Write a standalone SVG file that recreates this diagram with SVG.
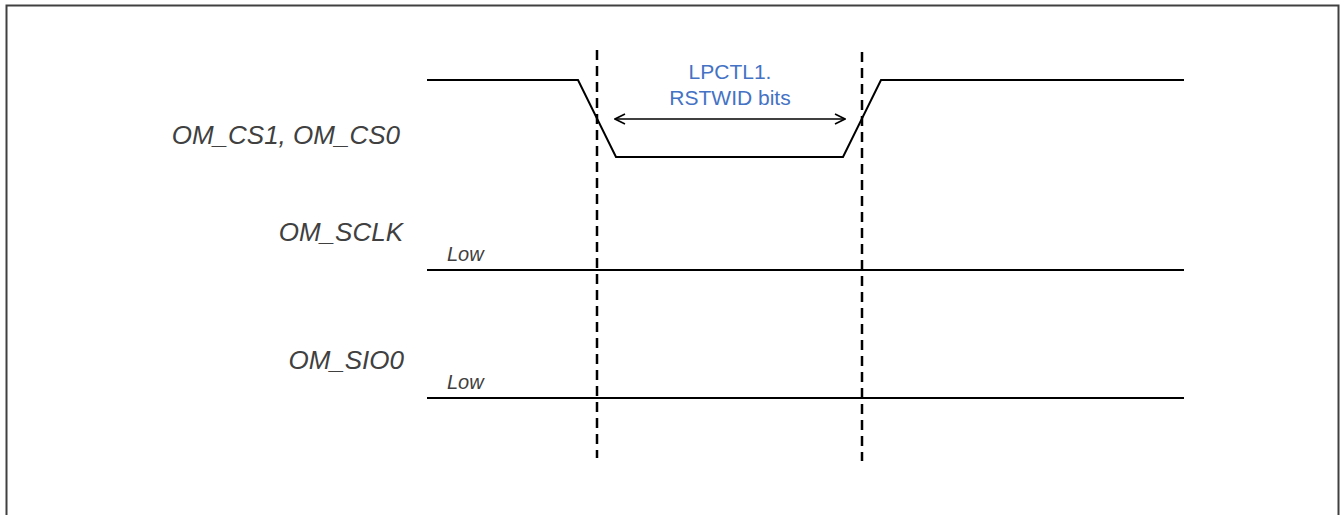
<svg xmlns="http://www.w3.org/2000/svg" width="1341" height="515" viewBox="0 0 1341 515">
<style>
.lbl{font-family:"Liberation Sans",Arial,sans-serif;font-style:italic;font-size:26px;fill:#404040;text-anchor:end}
.low{font-family:"Liberation Sans",Arial,sans-serif;font-style:italic;font-size:20px;fill:#404040}
.note{font-family:"Liberation Sans",Arial,sans-serif;font-size:21px;fill:#4472C4;text-anchor:middle}
.sig{fill:none;stroke:#000;stroke-width:2}
.dash{fill:none;stroke:#000;stroke-width:2.5;stroke-dasharray:10,6}
</style>
<defs>
<marker id="ah" viewBox="0 0 12 12" refX="11" refY="6" markerWidth="12" markerHeight="12" markerUnits="userSpaceOnUse" orient="auto-start-reverse">
<path d="M1,1 L11,6 L1,11" fill="none" stroke="#000" stroke-width="1.6"/>
</marker>
</defs>
<rect x="6.5" y="5.5" width="1332" height="530" fill="#fff" stroke="#404040" stroke-width="2"/>
<g id="cs">
<text class="lbl" x="400" y="144">OM_CS1, OM_CS0</text>
<path class="sig" d="M427,80 H578 L616,157 H843 L881,80 H1184"/>
</g>
<g id="sclk">
<text class="lbl" x="403" y="241">OM_SCLK</text>
<text class="low" x="447" y="261">Low</text>
<path class="sig" d="M427,270 H1184"/>
</g>
<g id="sio0">
<text class="lbl" x="404" y="369">OM_SIO0</text>
<text class="low" x="447" y="389">Low</text>
<path class="sig" d="M427,398 H1184"/>
</g>
<g id="rstwid">
<text class="note" x="730" y="79">LPCTL1.</text>
<text class="note" x="730" y="105">RSTWID bits</text>
</g>
<g id="connectors">
<path class="dash" d="M597,50 V458"/>
<path class="dash" d="M862,52 V461"/>
<path d="M615,119 H845" fill="none" stroke="#000" stroke-width="1.6" marker-start="url(#ah)" marker-end="url(#ah)"/>
</g>
</svg>
